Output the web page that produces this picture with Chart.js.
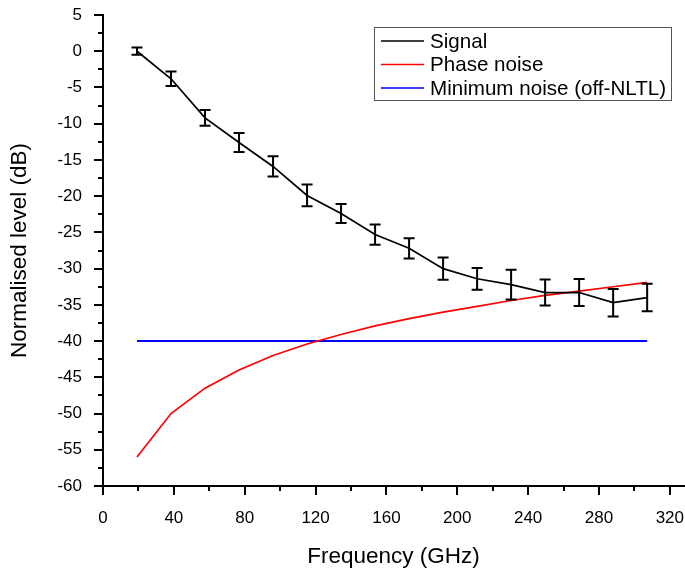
<!DOCTYPE html>
<html>
<head>
<meta charset="utf-8">
<script src="https://cdn.jsdelivr.net/npm/chart.js@4.4.1/dist/chart.umd.min.js"></script>
<style>
  html, body { margin: 0; padding: 0; background: #fff; }
  #wrap { width: 685px; height: 571px; }
</style>
</head>
<body>
<div id="wrap"><canvas id="c" width="685" height="571"></canvas></div>
<script>
// Frequencies (GHz) of the harmonics
const freqs = [19.2, 38.4, 57.6, 76.8, 96.0, 115.2, 134.4, 153.6, 172.8, 192.0, 211.2, 230.4, 249.6, 268.8, 288.0, 307.2];
// Signal level (dB) and its error (±dB)
const signalLevel = [0.0, -3.8, -9.2, -12.6, -15.9, -19.9, -22.4, -25.3, -27.2, -30.0, -31.4, -32.2, -33.3, -33.3, -34.7, -34.0];
const signalErr   = [0.5, 1.0, 1.1, 1.3, 1.4, 1.5, 1.3, 1.4, 1.4, 1.55, 1.5, 2.05, 1.8, 1.85, 1.9, 1.9];
// Phase noise (dB)
const phaseNoise = [-56.0, -50.0, -46.5, -44.0, -42.0, -40.4, -39.1, -37.9, -36.9, -36.0, -35.2, -34.4, -33.7, -33.1, -32.5, -31.9];
// Minimum noise (off-NLTL), dB
const minNoise = [-40, -40];
const minNoiseFreqs = [19.2, 307.2];

const seriesLabels = ['Signal', 'Phase noise', 'Minimum noise (off-NLTL)'];
const xTickLabels = [0, 40, 80, 120, 160, 200, 240, 280, 320];
const yTickLabels = [5, 0, -5, -10, -15, -20, -25, -30, -35, -40, -45, -50, -55, -60];

const FONT = "'Liberation Sans', Arial, sans-serif";

const toPts = (xs, ys) => xs.map((x, i) => ({ x: x, y: ys[i] }));

const errorBarPlugin = {
  id: 'errorBars',
  afterDatasetsDraw(chart) {
    const ctx = chart.ctx;
    const xs = chart.scales.x, ys = chart.scales.y;
    ctx.save();
    ctx.strokeStyle = '#000';
    ctx.lineWidth = 2;
    freqs.forEach((f, i) => {
      const px = xs.getPixelForValue(f);
      const top = ys.getPixelForValue(signalLevel[i] + signalErr[i]);
      const bot = ys.getPixelForValue(signalLevel[i] - signalErr[i]);
      ctx.beginPath();
      ctx.moveTo(px, top); ctx.lineTo(px, bot);
      ctx.moveTo(px - 5.5, top); ctx.lineTo(px + 5.5, top);
      ctx.moveTo(px - 5.5, bot); ctx.lineTo(px + 5.5, bot);
      ctx.stroke();
    });
    ctx.restore();
  }
};

const minorTickPlugin = {
  id: 'minorTicks',
  afterDraw(chart) {
    const ctx = chart.ctx;
    const xs = chart.scales.x, ys = chart.scales.y;
    const area = chart.chartArea;
    ctx.save();
    ctx.strokeStyle = '#000';
    ctx.lineWidth = 2;
    ctx.beginPath();
    for (let v = 20; v <= xs.max; v += 40) {
      const px = Math.round(xs.getPixelForValue(v));
      ctx.moveTo(px, area.bottom); ctx.lineTo(px, area.bottom + 5);
    }
    for (let v = 2.5; v >= ys.min; v -= 5) {
      const py = Math.round(ys.getPixelForValue(v));
      ctx.moveTo(area.left, py); ctx.lineTo(area.left - 5, py);
    }
    ctx.stroke();
    ctx.restore();
  }
};

const legendPlugin = {
  id: 'boxLegend',
  afterDraw(chart) {
    const ctx = chart.ctx;
    const x0 = 374, y0 = 27, w = 297, h = 73;
    ctx.save();
    ctx.fillStyle = '#fff';
    ctx.fillRect(x0, y0, w, h);
    ctx.strokeStyle = '#555';
    ctx.lineWidth = 1;
    ctx.strokeRect(x0 + 0.5, y0 + 0.5, w, h);
    ctx.font = '20.6px ' + FONT;
    ctx.textBaseline = 'middle';
    ctx.textAlign = 'left';
    chart.data.datasets.forEach((ds, i) => {
      const y = y0 + 14 + i * 23.5;
      ctx.strokeStyle = ds.borderColor;
      ctx.lineWidth = 1.5;
      ctx.beginPath();
      ctx.moveTo(381, y); ctx.lineTo(424, y);
      ctx.stroke();
      ctx.fillStyle = '#000';
      ctx.fillText(ds.label, 430, y + 1);
    });
    ctx.restore();
  }
};

new Chart(document.getElementById('c'), {
  type: 'scatter',
  data: {
    datasets: [
      { label: seriesLabels[0], data: toPts(freqs, signalLevel), borderColor: '#000', backgroundColor: '#000', showLine: true, borderWidth: 1.7, pointRadius: 0 },
      { label: seriesLabels[1], data: toPts(freqs, phaseNoise), borderColor: '#ff0000', backgroundColor: '#ff0000', showLine: true, borderWidth: 1.7, pointRadius: 0 },
      { label: seriesLabels[2], data: toPts(minNoiseFreqs, minNoise), borderColor: '#0000ff', backgroundColor: '#0000ff', showLine: true, borderWidth: 2, pointRadius: 0 }
    ]
  },
  options: {
    responsive: false,
    animation: false,
    layout: { padding: { top: 15, right: 1, left: 0, bottom: 0 } },
    plugins: { legend: { display: false }, tooltip: { enabled: false } },
    scales: {
      x: {
        type: 'linear',
        min: 0, max: 328,
        afterFit(s) { s.height = 85; s.paddingRight = 0; s.paddingLeft = 0; },
        border: { display: true, color: '#000', width: 2 },
        grid: { display: true, drawOnChartArea: false, drawTicks: true, tickLength: 9, tickColor: '#000', lineWidth: 2 },
        afterBuildTicks(s) { s.ticks = xTickLabels.map(v => ({ value: v })); },
        ticks: { color: '#000', font: { family: FONT, size: 17 }, padding: 13, maxRotation: 0, callback: v => String(v) },
        title: { display: true, text: 'Frequency (GHz)', color: '#000', font: { family: FONT, size: 22.5 }, padding: { top: 4, bottom: 1 } }
      },
      y: {
        type: 'linear',
        min: -60, max: 5,
        afterFit(s) { s.width = 103; s.paddingTop = 0; s.paddingBottom = 0; },
        border: { display: true, color: '#000', width: 2 },
        grid: { display: true, drawOnChartArea: false, drawTicks: true, tickLength: 9, tickColor: '#000', lineWidth: 2 },
        afterBuildTicks(s) { s.ticks = yTickLabels.map(v => ({ value: v })); },
        ticks: { color: '#000', font: { family: FONT, size: 17 }, padding: 12, callback: v => String(v) },
        title: { display: true, text: 'Normalised level (dB)', color: '#000', font: { family: FONT, size: 22.5 }, padding: { top: 6.5, bottom: 4 } }
      }
    }
  },
  plugins: [errorBarPlugin, minorTickPlugin, legendPlugin]
});
</script>
</body>
</html>
